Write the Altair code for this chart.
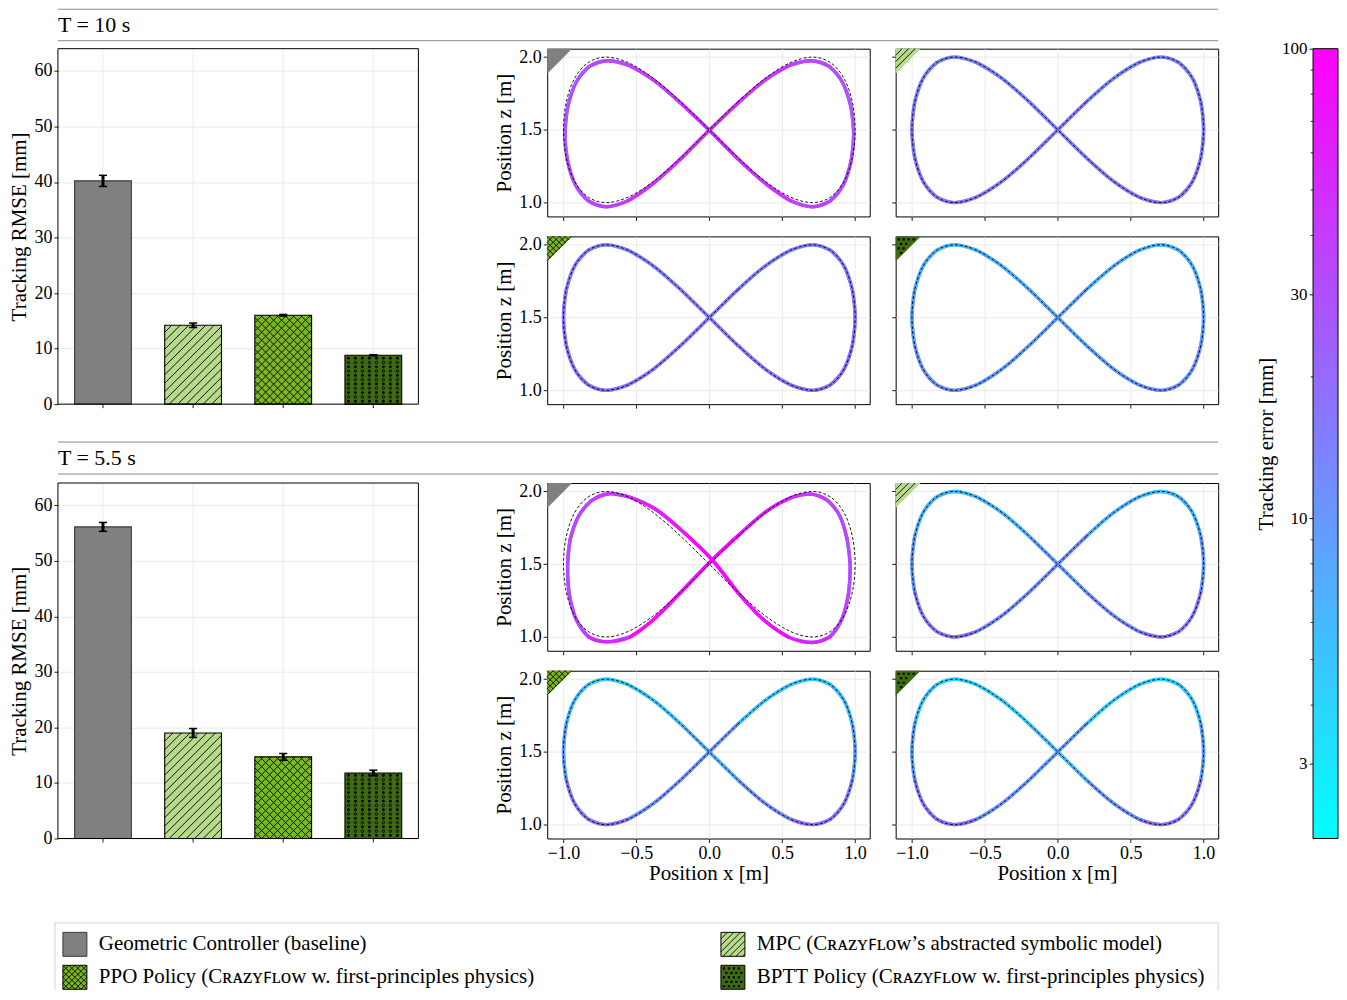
import math
import altair as alt
import pandas as pd

FONT = "Liberation Serif"

# ------------------------------------------------------------------ data
METHODS = ["Geometric", "MPC", "PPO", "BPTT"]
LEGEND_LABELS = [
    "Geometric Controller (baseline)",
    "MPC (Cʀᴀᴢʏꜰʟᴏᴡ’s abstracted symbolic model)",
    "PPO Policy (Cʀᴀᴢʏꜰʟᴏᴡ w. first-principles physics)",
    "BPTT Policy (Cʀᴀᴢʏꜰʟᴏᴡ w. first-principles physics)",
]
HEADERS = ["T = 10 s", "T = 5.5 s"]

RMSE_T10 = [40.2, 14.2, 16.0, 8.8]
STD_T10 = [1.0, 0.4, 0.15, 0.1]
RMSE_T55 = [56.1, 19.0, 14.7, 11.8]
STD_T55 = [0.8, 0.8, 0.6, 0.5]

# reference figure-eight (dashed)
REF_X = [0.000, 0.195, 0.383, 0.556, 0.707, 0.831, 0.924, 0.981, 1.000, 0.981, 0.924, 0.831, 0.707, 0.556, 0.383, 0.195,
         0.000, -0.195, -0.383, -0.556, -0.707, -0.831, -0.924, -0.981, -1.000, -0.981, -0.924, -0.831, -0.707, -0.556, -0.383, -0.195]
REF_Z = [1.500, 1.691, 1.854, 1.962, 2.000, 1.962, 1.854, 1.691, 1.500, 1.309, 1.146, 1.038, 1.000, 1.038, 1.146, 1.309,
         1.500, 1.691, 1.854, 1.962, 2.000, 1.962, 1.854, 1.691, 1.500, 1.309, 1.146, 1.038, 1.000, 1.038, 1.146, 1.309]

# geometric controller flown paths
GEO_T10_X = [0.000, 0.195, 0.382, 0.553, 0.702, 0.824, 0.914, 0.970, 0.990, 0.973, 0.920, 0.830, 0.708, 0.558, 0.386, 0.197,
             0.000, -0.195, -0.382, -0.553, -0.702, -0.824, -0.914, -0.970, -0.990, -0.973, -0.920, -0.830, -0.708, -0.558, -0.386, -0.197]
GEO_T10_Z = [1.497, 1.683, 1.842, 1.944, 1.975, 1.935, 1.826, 1.664, 1.476, 1.288, 1.124, 1.012, 0.972, 1.013, 1.131, 1.300,
             1.497, 1.683, 1.842, 1.944, 1.975, 1.935, 1.826, 1.664, 1.476, 1.288, 1.124, 1.012, 0.972, 1.013, 1.131, 1.300]
GEO_T55_X = [0.012, 0.215, 0.398, 0.562, 0.700, 0.812, 0.895, 0.945, 0.966, 0.955, 0.910, 0.828, 0.702, 0.545, 0.372, 0.192,
             0.018, -0.178, -0.366, -0.543, -0.690, -0.810, -0.898, -0.955, -0.972, -0.962, -0.915, -0.828, -0.700, -0.540, -0.380, -0.200]
GEO_T55_Z = [1.522, 1.712, 1.868, 1.958, 1.982, 1.938, 1.832, 1.672, 1.488, 1.298, 1.125, 1.002, 0.962, 0.998, 1.118, 1.310,
             1.532, 1.722, 1.876, 1.960, 1.984, 1.936, 1.828, 1.668, 1.486, 1.298, 1.124, 1.000, 0.966, 1.002, 1.122, 1.302]

# tracking error [mm] along the path (16 stretches per lap)
ERR_GEO_T10 = [50, 42, 34, 29, 28, 31, 38, 47, 50, 42, 34, 29, 28, 31, 38, 47]
ERR_MPC_T10 = [14, 13, 13, 14, 15, 16, 16, 15, 14, 13, 13, 14, 15, 16, 16, 15]
ERR_PPO_T10 = [15, 14, 14, 15, 16, 18, 18, 16, 15, 14, 14, 15, 16, 18, 18, 16]
ERR_BPTT_T10 = [8, 7, 6, 7, 9, 11, 11, 9, 8, 7, 6, 7, 9, 11, 11, 9]
ERR_GEO_T55 = [92, 62, 42, 33, 31, 36, 55, 85, 92, 62, 42, 33, 31, 36, 55, 85]
ERR_MPC_T55 = [9, 6.5, 5.5, 7, 10, 16, 17, 12, 9, 6.5, 5.5, 7, 10, 16, 17, 12]
ERR_PPO_T55 = [7, 5, 4.5, 6, 9, 16, 18, 11, 7, 5, 4.5, 6, 9, 16, 18, 11]
ERR_BPTT_T55 = [6, 4.5, 4, 5.5, 9, 16, 18, 10, 6, 4.5, 4, 5.5, 9, 16, 18, 10]

CB_MIN, CB_MAX = 2.08, 100
CB_TICKS = [3, 10, 30, 100]
CB_MINOR = [4, 5, 6, 7, 8, 9, 20, 40, 50, 60, 70, 80, 90]

TX_TICKS = [-1.0, -0.5, 0.0, 0.5, 1.0]
TZ_TICKS = [1.0, 1.5, 2.0]
TX_DOM = [-1.112, 1.1]
TZ_DOM = [0.905, 2.058]
RMSE_TICKS = [0, 10, 20, 30, 40, 50, 60]
XDOM = [-0.5, 3.5]
YDOM = [0, 64]

# ------------------------------------------------------------------ styles / layout
FILL = ["#808080", "#b7da8b", "#79b62a", "#3e6a12"]
EDGE = ["#3a3a3a", "#000000", "#000000", "#000000"]
HATCH = [None, "/", "x", "o"]
HATCH_SPACING = [8, 8.5, 8, 7]
GRID = "#e4e4e4"

BAR_W, BAR_H = 361, 356
PW, PH = 323, 168
HDR_W = 1162
CB_W, CB_H = 23, 791
LEG_H = 68
HALF_W = 0.315
CAP = 0.045
SXB = BAR_W / (XDOM[1] - XDOM[0])
SYB = BAR_H / (YDOM[1] - YDOM[0])

# grid of the page: column widths / row heights (pixels)
COLS = [361, 129, 323, 26, 323, 95, CB_W]
ROWS = [40, 168, 20, 168, 79, 168, 20, 168, 84, LEG_H]

ONE = pd.DataFrame({"a": [0]})
EMPTY = pd.DataFrame({"a": pd.Series([], dtype=float)})
CSCALE = alt.Scale(type="log", domain=[CB_MIN, CB_MAX], range=["#00ffff", "#ff00ff"],
                   interpolate="rgb", clamp=True)


# ------------------------------------------------------------------ helpers
def clip_to_poly(p0, p1, poly):
    n = len(poly)
    cx = sum(p[0] for p in poly) / n
    cy = sum(p[1] for p in poly) / n
    dx, dy = p1[0] - p0[0], p1[1] - p0[1]
    t0, t1 = 0.0, 1.0
    for i in range(n):
        ax, ay = poly[i]
        bx, by = poly[(i + 1) % n]
        nx, ny = -(by - ay), (bx - ax)
        if nx * (cx - ax) + ny * (cy - ay) < 0:
            nx, ny = -nx, -ny
        num = nx * (p0[0] - ax) + ny * (p0[1] - ay)
        den = nx * dx + ny * dy
        if abs(den) < 1e-12:
            if num < 0:
                return None
            continue
        t = -num / den
        if den > 0:
            t0 = max(t0, t)
        else:
            t1 = min(t1, t)
        if t0 > t1:
            return None
    return (p0[0] + t0 * dx, p0[1] + t0 * dy), (p0[0] + t1 * dx, p0[1] + t1 * dy)


def hatch_segments(poly, kind, spacing):
    ys = [p[1] for p in poly]
    y0, y1 = min(ys) - 1, max(ys) + 1
    fams = {"/": [1], "x": [1, -1]}.get(kind, [])
    segs = []
    for f in fams:
        vals = [p[0] + f * p[1] for p in poly]
        for k in range(math.floor(min(vals) / spacing), math.ceil(max(vals) / spacing) + 1):
            c = k * spacing
            s = clip_to_poly((c - f * y0, y0), (c - f * y1, y1), poly)
            if s and math.dist(s[0], s[1]) > 0.8:
                segs.append(s)
    return segs


def inside(pt, poly, margin):
    n = len(poly)
    cx = sum(p[0] for p in poly) / n
    cy = sum(p[1] for p in poly) / n
    for i in range(n):
        ax, ay = poly[i]
        bx, by = poly[(i + 1) % n]
        nx, ny = -(by - ay), (bx - ax)
        if nx * (cx - ax) + ny * (cy - ay) < 0:
            nx, ny = -nx, -ny
        ln = math.hypot(nx, ny)
        if (nx * (pt[0] - ax) + ny * (pt[1] - ay)) / ln < margin:
            return False
    return True


def pattern_marks(mi, poly, half, cx, cy, size):
    """Hatch pattern of method mi drawn inside a symbol box (pixel poly relative to box)."""
    kind = HATCH[mi]
    u = lambda v: (v - half) / half
    if kind in ("/", "x"):
        segs = hatch_segments(poly, kind, 6.5 if kind == "/" else 6)
        if not segs:
            return []
        path = "".join(f"M{u(a[0]):.3f},{u(a[1]):.3f}L{u(b[0]):.3f},{u(b[1]):.3f}" for a, b in segs)
        return [alt.Chart(ONE).mark_point(shape=path, size=size, filled=False, color="black",
                                          strokeWidth=0.9, opacity=1)
                .encode(x=alt.value(cx), y=alt.value(cy))]
    if kind == "o":
        r = 1.1
        parts = []
        yy = 3.0
        j = 0
        while yy < 2 * half:
            xx = 3.0 + (2.5 if j % 2 else 0)
            while xx < 2 * half:
                if inside((xx, yy), poly, 1.5):
                    parts.append(f"M{u(xx - r):.3f},{u(yy - r):.3f}L{u(xx + r):.3f},{u(yy - r):.3f}"
                                 f"L{u(xx + r):.3f},{u(yy + r):.3f}L{u(xx - r):.3f},{u(yy + r):.3f}Z")
                xx += 5.0
            yy += 4.5
            j += 1
        if not parts:
            return []
        return [alt.Chart(ONE).mark_point(shape="".join(parts), size=size, filled=True, color="black",
                                          strokeWidth=0, opacity=1)
                .encode(x=alt.value(cx), y=alt.value(cy))]
    return []


def corner_layers(mi, L=25):
    half = L / 2
    tri = [(0, 0), (L, 0), (0, L)]
    base = alt.Chart(ONE).mark_point(shape="M-1,-1L1,-1L-1,1Z", size=L * L, filled=True,
                                     color=FILL[mi], strokeWidth=0, opacity=1).encode(
        x=alt.value(half), y=alt.value(half))
    return [base] + pattern_marks(mi, tri, half, half, half, L * L)


def seg_df(xs, zs, errs):
    n = len(xs)
    rows = []
    for g, e in enumerate(errs):
        for o, k in enumerate(range(2 * g - 1, 2 * g + 4)):
            i = k % n
            rows.append({"grp": g, "ord": o, "x": xs[i], "z": zs[i], "err": e})
    return pd.DataFrame(rows)


def panel(xs, zs, errs, mi, left, xlabels):
    seg = seg_df(xs, zs, errs)
    ref = pd.DataFrame({"ord": list(range(len(REF_X))), "x": REF_X, "z": REF_Z})
    sx = alt.Scale(domain=TX_DOM, nice=False, zero=False)
    sz = alt.Scale(domain=TZ_DOM, nice=False, zero=False)
    xaxis = alt.Axis(values=TX_TICKS, format=".1f", labels=xlabels,
                     title="Position x [m]" if xlabels else None, titlePadding=0,
                     grid=True, domain=False)
    yaxis = alt.Axis(values=TZ_TICKS, format=".1f", labels=left,
                     title="Position z [m]" if left else None, titlePadding=4,
                     grid=True, domain=False)
    track = alt.Chart(seg).mark_line(strokeWidth=3.4, interpolate="cardinal", strokeCap="round").encode(
        x=alt.X("x:Q", scale=sx, axis=xaxis),
        y=alt.Y("z:Q", scale=sz, axis=yaxis),
        detail="grp:N",
        order=alt.Order("ord:Q"),
        color=alt.Color("err:Q", scale=CSCALE, legend=None),
    )
    refl = alt.Chart(ref).mark_line(strokeWidth=0.9, color="black", strokeDash=[3, 2],
                                    interpolate="cardinal-closed").encode(
        x=alt.X("x:Q", scale=sx, axis=xaxis),
        y=alt.Y("z:Q", scale=sz, axis=yaxis),
        order=alt.Order("ord:Q"),
    )
    return alt.layer(track, refl, *corner_layers(mi)).properties(
        width=PW, height=PH, view=alt.ViewBackground(stroke="black", strokeWidth=1))


def px_to_bar(px, py):
    return px / SXB + XDOM[0], YDOM[1] - py / SYB


def bar_chart(vals, stds):
    df = pd.DataFrame({"method": METHODS, "pos": [0, 1, 2, 3], "v": vals, "s": stds})
    df["x0"] = df["pos"] - HALF_W
    df["x1"] = df["pos"] + HALF_W
    df["base"] = float(YDOM[0])
    df["top"] = float(YDOM[1])
    df["lo"] = df["v"] - df["s"]
    df["hi"] = df["v"] + df["s"]
    df["c0"] = df["pos"] - CAP
    df["c1"] = df["pos"] + CAP
    frame = pd.DataFrame({"fx0": [XDOM[0]], "fx1": [XDOM[1]], "fy0": [YDOM[0]], "fy1": [YDOM[1]]})
    hatch_rows, dot_rows = [], []
    for i in range(len(METHODS)):
        L = (df["x0"][i] - XDOM[0]) * SXB
        R = (df["x1"][i] - XDOM[0]) * SXB
        T = (YDOM[1] - vals[i]) * SYB
        B = BAR_H
        poly = [(L, T), (R, T), (R, B), (L, B)]
        kind = HATCH[i]
        if kind in ("/", "x"):
            for a, b in hatch_segments(poly, kind, HATCH_SPACING[i]):
                ax, ay = px_to_bar(*a)
                bx, by = px_to_bar(*b)
                hatch_rows.append({"hx0": ax, "hy0": ay, "hx1": bx, "hy1": by})
        elif kind == "o":
            j = 0
            y = B - 3.0
            while y >= T + 2.0:
                x = L + 3.5
                while x <= R - 2.5:
                    dx, dy = px_to_bar(x, y)
                    dot_rows.append({"dx": dx, "dy": dy, "full": j % 2 == 0})
                    x += HATCH_SPACING[i]
                y -= 4.3
                j += 1
    hdf = pd.DataFrame(hatch_rows)
    ddf = pd.DataFrame(dot_rows)
    xs = alt.Scale(domain=XDOM, nice=False, zero=False)
    ys = alt.Scale(domain=YDOM, nice=False, zero=False, range=[BAR_H, 0])
    ya = alt.Axis(values=RMSE_TICKS, title="Tracking RMSE [mm]", grid=True, domain=False, titlePadding=4)
    X = lambda f: alt.X(f, scale=xs, axis=None)
    Y = lambda f: alt.Y(f, scale=ys, axis=ya)
    vgrid = alt.Chart(df).mark_rule(color=GRID, strokeWidth=0.8).encode(
        x=X("pos:Q"), y=Y("base:Q"), y2="top:Q")
    xticks = alt.Chart(df).mark_rule(color="black", strokeWidth=0.9).encode(
        x=X("pos:Q"), y=Y("base:Q"), y2=alt.value(BAR_H + 4))
    fill = alt.Chart(df).mark_rect().encode(
        x=X("x0:Q"), x2="x1:Q", y=Y("base:Q"), y2="v:Q",
        color=alt.Color("method:N", scale=alt.Scale(domain=METHODS, range=FILL), legend=None),
    )
    hatch = alt.Chart(hdf).mark_rule(color="#111111", strokeWidth=1).encode(
        x=X("hx0:Q"), x2="hx1:Q", y=Y("hy0:Q"), y2="hy1:Q")
    dots_full = alt.Chart(ddf[ddf["full"]]).mark_point(filled=True, color="black", size=8, opacity=1).encode(
        x=X("dx:Q"), y=Y("dy:Q"))
    dots_open = alt.Chart(ddf[~ddf["full"]]).mark_point(filled=False, color="black", size=6, strokeWidth=0.9,
                                                         opacity=1).encode(x=X("dx:Q"), y=Y("dy:Q"))
    outline = alt.Chart(df).mark_rect(fillOpacity=0, strokeWidth=1.1).encode(
        x=X("x0:Q"), x2="x1:Q", y=Y("base:Q"), y2="v:Q",
        stroke=alt.Stroke("method:N", scale=alt.Scale(domain=METHODS, range=EDGE), legend=None),
    )
    err = alt.Chart(df).mark_rule(color="black", strokeWidth=3).encode(x=X("pos:Q"), y=Y("lo:Q"), y2="hi:Q")
    cap_lo = alt.Chart(df).mark_rule(color="black", strokeWidth=1.5).encode(x=X("c0:Q"), x2="c1:Q", y=Y("lo:Q"))
    cap_hi = alt.Chart(df).mark_rule(color="black", strokeWidth=1.5).encode(x=X("c0:Q"), x2="c1:Q", y=Y("hi:Q"))
    box = alt.Chart(frame).mark_rect(fillOpacity=0, stroke="black", strokeWidth=1).encode(
        x=X("fx0:Q"), x2="fx1:Q", y=Y("fy0:Q"), y2="fy1:Q")
    return alt.layer(vgrid, xticks, fill, hatch, dots_full, dots_open, outline, err, cap_lo, cap_hi, box
                     ).properties(width=BAR_W, height=PH)


def header(text, h, line_top, line_bot, text_y):
    top = alt.Chart(ONE).mark_rule(color="#8a8a8a", strokeWidth=1).encode(
        x=alt.value(0), x2=alt.value(HDR_W), y=alt.value(line_top))
    bot = alt.Chart(ONE).mark_rule(color="#8a8a8a", strokeWidth=1).encode(
        x=alt.value(0), x2=alt.value(HDR_W), y=alt.value(line_bot))
    txt = alt.Chart(ONE).mark_text(text=text, align="left", baseline="middle", fontSize=22,
                                   color="black").encode(x=alt.value(0), y=alt.value(text_y))
    return alt.layer(top, bot, txt).properties(width=COLS[0], height=h)


def colorbar():
    cb = pd.DataFrame({"lo": [CB_MIN], "hi": [CB_MAX]})
    minor = pd.DataFrame({"v": CB_MINOR})
    s = alt.Scale(type="log", domain=[CB_MIN, CB_MAX], nice=False, range=[CB_H, 0])
    ca = alt.Axis(values=CB_TICKS, format="d", title="Tracking error [mm]",
                  labelFontSize=17, titlePadding=5, grid=False, domain=False)
    grad = alt.LinearGradient(gradient="linear",
                              stops=[alt.GradientStop(color="#00ffff", offset=0),
                                     alt.GradientStop(color="#ff00ff", offset=1)],
                              x1=0, x2=0, y1=1, y2=0)
    bar = alt.Chart(cb).mark_rect(color=grad, stroke="black", strokeWidth=1).encode(
        y=alt.Y("lo:Q", scale=s, axis=ca), y2="hi:Q", x=alt.value(0), x2=alt.value(CB_W + 2))
    mt = alt.Chart(minor).mark_rule(color="black", strokeWidth=0.8).encode(
        y=alt.Y("v:Q", scale=s, axis=ca), x=alt.value(-2.5), x2=alt.value(0))
    return alt.layer(bar, mt).properties(width=CB_W, height=PH)


def legend():
    layers = [
        alt.Chart(ONE).mark_rule(color="#d4d4d4", strokeWidth=1).encode(
            x=alt.value(-3), x2=alt.value(HDR_W), y=alt.value(0.5)),
        alt.Chart(ONE).mark_rule(color="#d4d4d4", strokeWidth=1).encode(
            x=alt.value(-3), y=alt.value(0.5), y2=alt.value(LEG_H)),
        alt.Chart(ONE).mark_rule(color="#d4d4d4", strokeWidth=1).encode(
            x=alt.value(HDR_W), y=alt.value(0.5), y2=alt.value(LEG_H)),
    ]
    S = 24
    half = S / 2
    sq = [(0, 0), (S, 0), (S, S), (0, S)]
    patch_x = [5, 664]
    text_x = [41, 700]
    row_y = [22, 55]
    for i, lab in enumerate(LEGEND_LABELS):
        col, row = i % 2, i // 2
        cx, cy = patch_x[col] + half, row_y[row]
        layers.append(alt.Chart(ONE).mark_point(shape="square", size=S * S, filled=True, color=FILL[i],
                                                strokeWidth=0, opacity=1).encode(x=alt.value(cx), y=alt.value(cy)))
        layers += pattern_marks(i, sq, half, cx, cy, S * S)
        layers.append(alt.Chart(ONE).mark_point(shape="square", size=S * S, filled=False, color=EDGE[i],
                                                strokeWidth=1, opacity=1).encode(x=alt.value(cx), y=alt.value(cy)))
        layers.append(alt.Chart(ONE).mark_text(text=lab, align="left", baseline="middle", fontSize=21,
                                               color="black").encode(x=alt.value(text_x[col]), y=alt.value(cy)))
    return alt.layer(*layers).properties(width=COLS[0], height=LEG_H)


def filler(w, h):
    # empty spacer cell: no data, so it draws nothing and adds no bounds
    return alt.Chart(EMPTY).mark_point(opacity=0).encode(x=alt.value(0), y=alt.value(0)).properties(
        width=w, height=h)


# ------------------------------------------------------------------ assemble on a fixed grid
def panels(specs, xlabels_bottom):
    return [panel(xs, zs, errs, mi, k % 2 == 0, xlabels_bottom and k >= 2)
            for k, (xs, zs, errs, mi) in enumerate(specs)]


PANELS_T10 = [(GEO_T10_X, GEO_T10_Z, ERR_GEO_T10, 0), (REF_X, REF_Z, ERR_MPC_T10, 1),
              (REF_X, REF_Z, ERR_PPO_T10, 2), (REF_X, REF_Z, ERR_BPTT_T10, 3)]
PANELS_T55 = [(GEO_T55_X, GEO_T55_Z, ERR_GEO_T55, 0), (REF_X, REF_Z, ERR_MPC_T55, 1),
              (REF_X, REF_Z, ERR_PPO_T55, 2), (REF_X, REF_Z, ERR_BPTT_T55, 3)]

p = panels(PANELS_T10, False)
q = panels(PANELS_T55, True)

cells = {
    (0, 0): header(HEADERS[0], ROWS[0], 0.5, 32, 16),
    (1, 0): bar_chart(RMSE_T10, STD_T10), (1, 2): p[0], (1, 4): p[1], (1, 6): colorbar(),
    (3, 2): p[2], (3, 4): p[3],
    (4, 0): header(HEADERS[1], ROWS[4], 38, 70, 54),
    (5, 0): bar_chart(RMSE_T55, STD_T55), (5, 2): q[0], (5, 4): q[1],
    (7, 2): q[2], (7, 4): q[3],
}

items = []
for r in range(len(ROWS) - 1):
    for c in range(len(COLS)):
        items.append(cells[(r, c)] if (r, c) in cells else filler(COLS[c], ROWS[r]))
items.append(legend())

chart = alt.concat(
    *items, columns=len(COLS), spacing=0, align="each", bounds="flush"
).properties(
    padding={"left": 1, "top": 0, "right": 0, "bottom": 0}
).configure(font=FONT).configure_view(stroke=None).configure_axis(
    labelFont=FONT, titleFont=FONT, labelFontSize=18, titleFontSize=21, titleFontWeight="normal",
    labelColor="black", titleColor="black", tickColor="black", tickSize=4, tickWidth=0.9,
    labelPadding=2, gridColor=GRID, gridWidth=0.8, labelFlush=False,
)

chart.save("out.html", embed_options={"renderer": "svg", "actions": False})
